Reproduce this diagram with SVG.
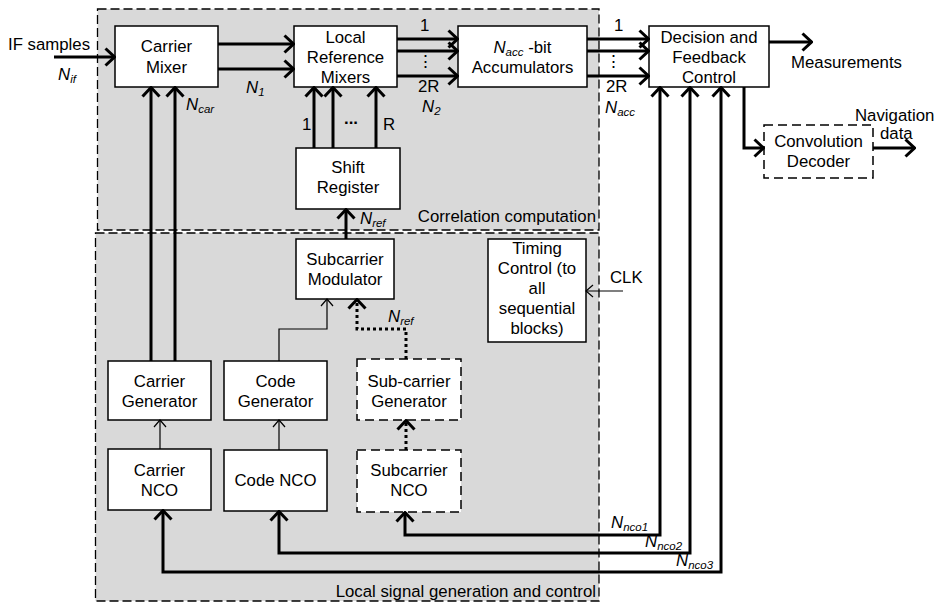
<svg xmlns="http://www.w3.org/2000/svg" width="940" height="603" viewBox="0 0 940 603">
<style>
text{font-family:"Liberation Sans",Arial,sans-serif;font-size:16.8px;fill:#000}
.c{text-anchor:middle}
.e{text-anchor:end}
.i{font-style:italic}
.sub{font-size:11.5px;font-style:italic}
.region{fill:#d9d9d9;stroke:#000;stroke-width:1.3;stroke-dasharray:9,4}
.box{fill:#fff;stroke:#000;stroke-width:1.5}
.dbox{fill:#fff;stroke:#000;stroke-width:1.5;stroke-dasharray:9,5}
.thick{fill:none;stroke:#000;stroke-width:3;marker-end:url(#ah)}
.thin{fill:none;stroke:#000;stroke-width:1.2;marker-end:url(#aht)}
.dot{fill:none;stroke:#000;stroke-width:3;stroke-dasharray:3,3;marker-end:url(#ah)}
.fb{fill:none;stroke:#000;stroke-width:3;marker-start:url(#ah);marker-end:url(#ah)}
</style>
<defs>
<marker id="ah" viewBox="0 0 12 20" refX="11" refY="10" markerWidth="12" markerHeight="20" orient="auto-start-reverse" markerUnits="userSpaceOnUse"><path d="M1.5,1.5 L10.5,10 L1.5,18.5" fill="none" stroke="#000" stroke-width="3"/></marker>
<marker id="aht" viewBox="0 0 9 14" refX="8" refY="7" markerWidth="9" markerHeight="14" orient="auto" markerUnits="userSpaceOnUse"><path d="M1,1 L8,7 L1,13" fill="none" stroke="#000" stroke-width="1.2"/></marker>
</defs>
<rect width="940" height="603" fill="#fff"/>
<g id="region-correlation">
<rect class="region" x="97.5" y="9" width="501.5" height="221"/>
<text class="e" x="596" y="222">Correlation computation</text>
</g>
<g id="region-local">
<rect class="region" x="95.5" y="233" width="503.5" height="368"/>
<text class="e" x="596" y="597">Local signal generation and control</text>
</g>
<g id="carrier-mixer"><rect class="box" x="115" y="26" width="103" height="61"/><text class="c" x="166.5" y="52">Carrier</text><text class="c" x="166.5" y="73">Mixer</text></g>
<g id="local-ref-mixers"><rect class="box" x="294" y="26" width="103" height="61"/><text class="c" x="345.5" y="43">Local</text><text class="c" x="345.5" y="63">Reference</text><text class="c" x="345.5" y="83">Mixers</text></g>
<g id="accumulators"><rect class="box" x="458" y="26" width="129" height="61"/><text class="c" x="522.5" y="53"><tspan class="i">N</tspan><tspan class="sub" dy="3">acc</tspan><tspan dy="-3"> -bit</tspan></text><text class="c" x="522.5" y="73">Accumulators</text></g>
<g id="decision"><rect class="box" x="649" y="26" width="120" height="61"/><text class="c" x="709" y="43">Decision and</text><text class="c" x="709" y="63">Feedback</text><text class="c" x="709" y="83">Control</text></g>
<g id="conv-decoder"><rect class="dbox" x="764" y="125" width="109" height="53"/><text class="c" x="818.5" y="147">Convolution</text><text class="c" x="818.5" y="167">Decoder</text></g>
<g id="shift-register"><rect class="box" x="296" y="148" width="104" height="61"/><text class="c" x="348" y="173">Shift</text><text class="c" x="348" y="193">Register</text></g>
<g id="subcarrier-modulator"><rect class="box" x="296" y="239" width="98" height="60"/><text class="c" x="345" y="265">Subcarrier</text><text class="c" x="345" y="285">Modulator</text></g>
<g id="timing-control"><rect class="box" x="488" y="239" width="98" height="103"/><text class="c" x="537" y="254">Timing</text><text class="c" x="537" y="274">Control (to</text><text class="c" x="537" y="294">all</text><text class="c" x="537" y="314">sequential</text><text class="c" x="537" y="334">blocks)</text></g>
<g id="carrier-generator"><rect class="box" x="108" y="361" width="103" height="59"/><text class="c" x="159.5" y="387">Carrier</text><text class="c" x="159.5" y="407">Generator</text></g>
<g id="code-generator"><rect class="box" x="224" y="361" width="103" height="59"/><text class="c" x="275.5" y="387">Code</text><text class="c" x="275.5" y="407">Generator</text></g>
<g id="subcarrier-generator"><rect class="dbox" x="357" y="359" width="104" height="61"/><text class="c" x="409" y="387">Sub-carrier</text><text class="c" x="409" y="407">Generator</text></g>
<g id="carrier-nco"><rect class="box" x="108" y="449" width="103" height="61"/><text class="c" x="159.5" y="476">Carrier</text><text class="c" x="159.5" y="496">NCO</text></g>
<g id="code-nco"><rect class="box" x="224" y="450" width="103" height="61"/><text class="c" x="275.5" y="486">Code NCO</text></g>
<g id="subcarrier-nco"><rect class="dbox" x="357" y="450" width="104" height="62"/><text class="c" x="409" y="476">Subcarrier</text><text class="c" x="409" y="496">NCO</text></g>
<g id="connectors">
<path class="thick" d="M54,57 H115"/>
<path class="thick" d="M218,44 H294"/>
<path class="thick" d="M218,69 H294"/>
<path class="thick" d="M151,361 V87"/>
<path class="thick" d="M175,361 V87"/>
<path class="thick" d="M314,148 V87"/>
<path class="thick" d="M333,148 V87"/>
<path class="thick" d="M376,148 V87"/>
<path class="thick" d="M346,239 V209"/>
<path class="thick" d="M397,39 H458"/>
<path class="thick" d="M397,51 H458"/>
<path class="thick" d="M397,76 H458"/>
<path class="thick" d="M587,39 H649"/>
<path class="thick" d="M587,51 H649"/>
<path class="thick" d="M587,76 H649"/>
<path class="thick" d="M769,42 H812"/>
<path class="thick" d="M744,87 V148 H764"/>
<path class="thick" d="M873,148 H915"/>
<path class="fb" d="M405,512 V535 H660 V87"/>
<path class="fb" d="M279,511 V553 H690 V87"/>
<path class="fb" d="M163,510 V572 H721 V87"/>
<path class="thin" d="M160,449 V420"/>
<path class="thin" d="M279,450 V420"/>
<path class="thin" d="M279,361 V329 H327 V299"/>
<path class="thin" d="M623,291 H586"/>
<path class="dot" d="M406,450 V420"/>
<path class="dot" d="M406,359 V329 H357 V299"/>
<text x="8" y="50">IF samples</text>
<text x="58" y="80"><tspan class="i">N</tspan><tspan class="sub" dy="3">if</tspan></text>
<text x="246" y="93"><tspan class="i">N</tspan><tspan class="sub" dy="3">1</tspan></text>
<text x="186" y="110"><tspan class="i">N</tspan><tspan class="sub" dy="3">car</tspan></text>
<text x="302" y="130">1</text>
<text x="344" y="124" style="font-weight:bold">...</text>
<text x="383" y="130">R</text>
<text x="360" y="224"><tspan class="i">N</tspan><tspan class="sub" dy="3">ref</tspan></text>
<text x="420" y="31">1</text>
<text class="c" x="425" y="67">⋮</text>
<text x="418" y="92">2R</text>
<text x="422" y="112"><tspan class="i">N</tspan><tspan class="sub" dy="3">2</tspan></text>
<text x="614" y="31">1</text>
<text class="c" x="613" y="67">⋮</text>
<text x="606" y="92">2R</text>
<text x="605" y="113"><tspan class="i">N</tspan><tspan class="sub" dy="3">acc</tspan></text>
<text x="791" y="68">Measurements</text>
<text x="855" y="121">Navigation</text>
<text x="880" y="139">data</text>
<text x="388" y="322"><tspan class="i">N</tspan><tspan class="sub" dy="3">ref</tspan></text>
<text x="610" y="283">CLK</text>
<text x="611" y="528"><tspan class="i">N</tspan><tspan class="sub" dy="3">nco1</tspan></text>
<text x="645" y="547"><tspan class="i">N</tspan><tspan class="sub" dy="3">nco2</tspan></text>
<text x="676" y="566"><tspan class="i">N</tspan><tspan class="sub" dy="3">nco3</tspan></text>
</g>
</svg>
